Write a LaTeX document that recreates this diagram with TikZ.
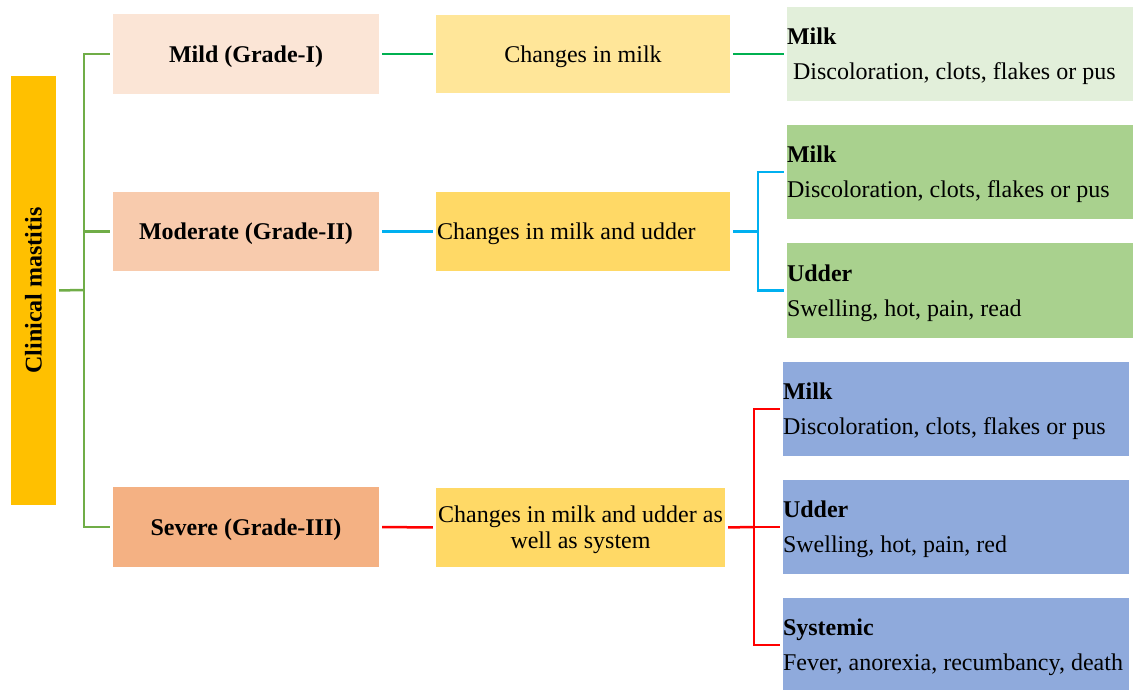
\documentclass[tikz,border=0pt]{standalone}
\usepackage{fontspec}
\setmainfont{Liberation Serif}
\definecolor{cClin}{HTML}{FFC000}
\definecolor{cMild}{HTML}{FBE5D6}
\definecolor{cMod}{HTML}{F8CBAD}
\definecolor{cSev}{HTML}{F4B183}
\definecolor{cChgA}{HTML}{FFE699}
\definecolor{cChgB}{HTML}{FFD966}
\definecolor{cRA}{HTML}{E2EFDA}
\definecolor{cRB}{HTML}{A9D18E}
\definecolor{cRC}{HTML}{8FAADC}
\definecolor{lGreenB}{HTML}{70AD47}
\definecolor{lGreen}{HTML}{00B050}
\definecolor{lCyan}{HTML}{00B0F0}
\definecolor{lRed}{HTML}{FF0000}
\newcommand{\lowered}[1]{\raisebox{-2.5pt}[\height][\depth]{#1}}
\newcommand{\topstrut}{\rule{0pt}{21.5pt}}
\begin{document}
\begin{tikzpicture}[x=1pt,y=-1pt,
  box/.style={inner sep=0pt, draw=none, font=\fontsize{24}{28}\selectfont},
  grade/.style={box, minimum width=266pt, font=\fontsize{24}{28}\selectfont\bfseries},
  chg/.style={box, minimum width=294pt},
  detail/.style={box, text width=346pt, align=flush left, font=\fontsize{24}{35}\selectfont},
  conn/.style={line width=2.5pt},
]
\useasboundingbox (0,0) rectangle (1143,690);
\fill[white] (0,0) rectangle (1143,690);

% root
\node[box, fill=cClin, minimum width=45pt, minimum height=429pt] (clin) at (33.5,290.5) {};
\node[rotate=90, font=\fontsize{24}{28}\selectfont\bfseries] (clinlbl) at (clin.center) {Clinical mastitis};

% grades
\node[grade, fill=cMild, minimum height=80pt] (mild) at (246,54) {\lowered{Mild (Grade-I)}};
\node[grade, fill=cMod, minimum height=79pt] (mod) at (246,231.5) {\lowered{Moderate (Grade-II)}};
\node[grade, fill=cSev, minimum height=80pt] (sev) at (246,527) {\lowered{Severe (Grade-III)}};

% changes
\node[chg, fill=cChgA, minimum height=78pt] (chg1) at (583,54) {\lowered{Changes in milk}};
\node[box, fill=cChgB, minimum height=79pt, text width=292pt, inner xsep=1pt, align=flush left] (chg2) at (583,231.5) {\lowered{Changes in milk and udder}};
\node[box, fill=cChgB, minimum height=79pt, text width=289pt, align=flush center, font=\fontsize{24}{26}\selectfont] (chg3) at (580.5,527.5) {\topstrut Changes in milk and udder as\\well as system};

% details
\node[detail, fill=cRA, minimum height=94pt] (r1) at (960,54) {\topstrut\textbf{Milk}\\\hspace*{6pt}Discoloration, clots, flakes or pus};
\node[detail, fill=cRB, minimum height=94pt] (r2) at (960,172) {\topstrut\textbf{Milk}\\Discoloration, clots, flakes or pus};
\node[detail, fill=cRB, minimum height=95pt] (r3) at (960,290.5) {\topstrut\textbf{Udder}\\Swelling, hot, pain, read};
\node[detail, fill=cRC, minimum height=94pt] (s1) at (956,409) {\topstrut\textbf{Milk}\\Discoloration, clots, flakes or pus};
\node[detail, fill=cRC, minimum height=94pt] (s2) at (956,527) {\topstrut\textbf{Udder}\\Swelling, hot, pain, red};
\node[detail, fill=cRC, minimum height=94pt] (s3) at (956,645) {\topstrut\textbf{Systemic}\\Fever, anorexia, recumbancy, death};

% root bracket
\coordinate (gb) at (84,290);
\draw[conn, lGreenB, shorten <=3pt] (clin.east) -- (gb);
\draw[conn, lGreenB, shorten >=3pt] (gb) |- (mild.west);
\draw[conn, lGreenB, shorten >=3pt] (gb) |- (mod.west);
\draw[conn, lGreenB, shorten >=3pt] (gb) |- (sev.west);

% mild
\draw[conn, lGreen, shorten <=3pt, shorten >=3pt] (mild.east) -- (chg1.west);
\draw[conn, lGreen, shorten <=3pt, shorten >=3pt] (chg1.east) -- (r1.west);

% moderate
\draw[conn, lCyan, shorten <=3pt, shorten >=3pt] (mod.east) -- (chg2.west);
\coordinate (cb) at (758,231.5);
\draw[conn, lCyan, shorten <=3pt] (chg2.east) -- (cb);
\draw[conn, lCyan, shorten >=3pt] (cb) |- (r2.west);
\draw[conn, lCyan, shorten >=3pt] (cb) |- (r3.west);

% severe
\draw[conn, lRed, shorten <=3pt, shorten >=3pt] (sev.east) -- (chg3.west);
\coordinate (rb) at (754,527);
\draw[conn, lRed, shorten <=3pt] (chg3.east) -- (rb);
\draw[conn, lRed, shorten >=3pt] (rb) |- (s1.west);
\draw[conn, lRed, shorten >=3pt] (rb) -- (s2.west);
\draw[conn, lRed, shorten >=3pt] (rb) |- (s3.west);
\end{tikzpicture}
\end{document}
